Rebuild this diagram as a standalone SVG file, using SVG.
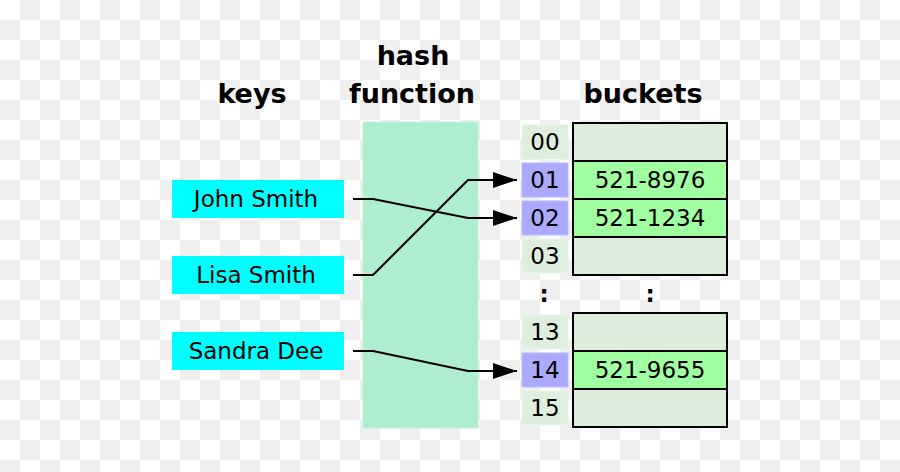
<svg xmlns="http://www.w3.org/2000/svg" width="900" height="472" viewBox="0 0 900 472">
<defs>
  <pattern id="checker" width="40" height="40" patternUnits="userSpaceOnUse">
    <rect width="40" height="40" fill="#ffffff"/>
    <rect x="20" y="0" width="20" height="20" fill="#efefef"/>
    <rect x="0" y="20" width="20" height="20" fill="#efefef"/>
  </pattern>
  <marker id="arrow" markerUnits="userSpaceOnUse" markerWidth="26" markerHeight="18" refX="24" refY="8" orient="auto">
    <path d="M0,0 L24,8 L0,16 Z" fill="#000"/>
  </marker>
</defs>
<style>
  text { font-family: "DejaVu Sans", "Liberation Sans", sans-serif; fill: #000; }
  .title { font-size: 27px; font-weight: bold; text-anchor: middle; }
  .lbl { font-size: 23px; text-anchor: middle; }
  .key { fill: #00ffff; }
  .idx { fill: #ddeedd; stroke: #e8f4e8; stroke-width: 1; }
  .idxh { fill: #aaaaff; stroke: #b8b8ff; stroke-width: 1; }
  .empty { fill: #ddeedd; stroke: #000; stroke-width: 2; }
  .full { fill: #a0ffa0; stroke: #000; stroke-width: 2; }
  .conn { fill: none; stroke: #000; stroke-width: 2; marker-end: url(#arrow); }
</style>
<rect width="900" height="472" fill="url(#checker)"/>

<g id="titles">
  <text class="title" x="252" y="103">keys</text>
  <text class="title" x="413" y="65">hash</text>
  <text class="title" x="412" y="103">function</text>
  <text class="title" x="643" y="103">buckets</text>
</g>

<g id="hash-function">
  <rect x="363" y="122" width="115" height="306" fill="#aeeecf" stroke="#bdf2d8" stroke-width="1"/>
</g>

<g id="key-john">
  <rect class="key" x="172" y="180" width="172" height="38"/>
  <text class="lbl" x="256" y="207">John Smith</text>
</g>
<g id="key-lisa">
  <rect class="key" x="172" y="256" width="172" height="38"/>
  <text class="lbl" x="256" y="283">Lisa Smith</text>
</g>
<g id="key-sandra">
  <rect class="key" x="172" y="332" width="172" height="38"/>
  <text class="lbl" x="256" y="359">Sandra Dee</text>
</g>

<g id="index-00"><rect class="idx" x="522" y="125" width="46" height="34"/><text class="lbl" x="545" y="150">00</text></g>
<g id="index-01"><rect class="idxh" x="522" y="163" width="46" height="34"/><text class="lbl" x="545" y="188">01</text></g>
<g id="index-02"><rect class="idxh" x="522" y="201" width="46" height="34"/><text class="lbl" x="545" y="226">02</text></g>
<g id="index-03"><rect class="idx" x="522" y="239" width="46" height="34"/><text class="lbl" x="545" y="264">03</text></g>
<g id="index-13"><rect class="idx" x="522" y="315" width="46" height="34"/><text class="lbl" x="545" y="340">13</text></g>
<g id="index-14"><rect class="idxh" x="522" y="353" width="46" height="34"/><text class="lbl" x="545" y="378">14</text></g>
<g id="index-15"><rect class="idx" x="522" y="391" width="46" height="34"/><text class="lbl" x="545" y="416">15</text></g>

<g id="bucket-00"><rect class="empty" x="573" y="123" width="154" height="38"/></g>
<g id="bucket-01"><rect class="full" x="573" y="161" width="154" height="38"/><text class="lbl" x="650" y="188">521-8976</text></g>
<g id="bucket-02"><rect class="full" x="573" y="199" width="154" height="38"/><text class="lbl" x="650" y="226">521-1234</text></g>
<g id="bucket-03"><rect class="empty" x="573" y="237" width="154" height="38"/></g>
<g id="bucket-13"><rect class="empty" x="573" y="313" width="154" height="38"/></g>
<g id="bucket-14"><rect class="full" x="573" y="351" width="154" height="38"/><text class="lbl" x="650" y="378">521-9655</text></g>
<g id="bucket-15"><rect class="empty" x="573" y="389" width="154" height="38"/></g>

<g id="ellipsis">
  <text class="lbl" x="544" y="302" font-weight="bold">:</text>
  <text class="lbl" x="650" y="302" font-weight="bold">:</text>
</g>

<g id="connectors">
  <path class="conn" d="M353,199 L373,199 L468,218 L517,218"/>
  <path class="conn" d="M353,275 L373,275 L468,180 L517,180"/>
  <path class="conn" d="M353,351 L373,351 L468,371 L517,371"/>
</g>
</svg>
